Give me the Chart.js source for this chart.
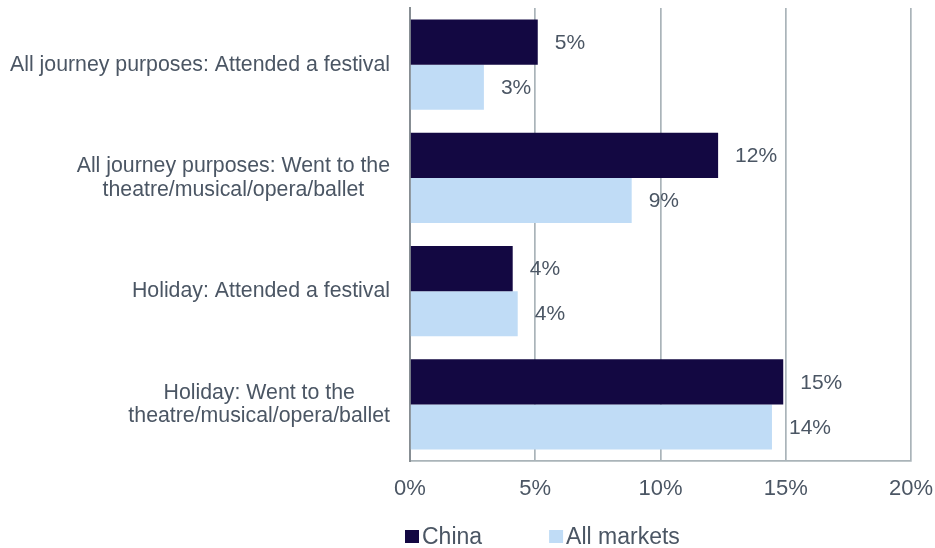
<!DOCTYPE html>
<html>
<head>
<meta charset="utf-8">
<title>Cultural activities</title>
<script src="https://cdn.jsdelivr.net/npm/chart.js@4.4.1/dist/chart.umd.min.js"></script>
<style>
  html, body { margin: 0; padding: 0; background: #fff; }
  #wrap { width: 935px; height: 548px; }
</style>
</head>
<body>
<div id="wrap"><canvas id="barChart" width="935" height="548"></canvas></div>
<script>
// categories (multi-line labels as arrays)
var categories = [
    'All journey purposes: Attended a festival',
    ['All journey purposes: Went to the', 'theatre/musical/opera/ballet'],
    'Holiday: Attended a festival',
    ['Holiday: Went to the', 'theatre/musical/opera/ballet']
];
var seriesNames = ['China', 'All markets'];
var chinaValues = [5.1, 12.3, 4.1, 14.9];
var allMarketsValues = [2.95, 8.85, 4.3, 14.45];
var xTicks = [0, 5, 10, 15, 20];

var FONT = "'Liberation Sans', Arial, sans-serif";
var TEXT = '#4b5664';
var seriesColors = ['#130842', '#c0dcf6'];

// category labels: block right aligned, lines centred inside the block
var yLabelPlugin = {
    id: 'yLabels',
    afterDraw: function(chart) {
        var ctx = chart.ctx;
        var scale = chart.scales.y;
        var lineH = 23.5;
        ctx.save();
        ctx.font = '21.3px ' + FONT;
        ctx.fillStyle = TEXT;
        ctx.textAlign = 'center';
        ctx.textBaseline = 'middle';
        chart.data.labels.forEach(function(lab, i) {
            var lines = Array.isArray(lab) ? lab : [lab];
            var w = 0;
            lines.forEach(function(l) { w = Math.max(w, ctx.measureText(l).width); });
            var cx = scale.right - 20 - w / 2;
            var cy = scale.getPixelForTick(i);
            var y0 = cy - (lines.length - 1) * lineH / 2;
            lines.forEach(function(l, k) { ctx.fillText(l, cx, y0 + k * lineH); });
        });
        ctx.restore();
    }
};

// value labels at the end of each bar
var valueLabelPlugin = {
    id: 'valueLabels',
    afterDatasetsDraw: function(chart) {
        var ctx = chart.ctx;
        ctx.save();
        ctx.font = '21px ' + FONT;
        ctx.fillStyle = TEXT;
        ctx.textAlign = 'left';
        ctx.textBaseline = 'middle';
        chart.data.datasets.forEach(function(ds, d) {
            chart.getDatasetMeta(d).data.forEach(function(bar, i) {
                ctx.fillText(Math.round(ds.data[i]) + '%', bar.x + 17, bar.y + 1);
            });
        });
        ctx.restore();
    }
};

// legend under the axis: small square + name
var legendPlugin = {
    id: 'bottomLegend',
    afterDraw: function(chart) {
        var ctx = chart.ctx;
        var x = 405, cy = 536.5;
        ctx.save();
        ctx.font = '23px ' + FONT;
        ctx.textBaseline = 'middle';
        ctx.textAlign = 'left';
        chart.data.datasets.forEach(function(ds) {
            ctx.fillStyle = ds.backgroundColor;
            ctx.fillRect(x, cy - 6.5, 14, 13);
            ctx.fillStyle = TEXT;
            ctx.fillText(ds.label, x + 17, cy + 1);
            x += 17 + ctx.measureText(ds.label).width + 67;
        });
        ctx.restore();
    }
};

var barData = {
    labels: categories,
    datasets: [{
        label: seriesNames[0],
        data: chinaValues,
        backgroundColor: seriesColors[0]
    }, {
        label: seriesNames[1],
        data: allMarketsValues,
        backgroundColor: seriesColors[1]
    }]
};

new Chart(document.getElementById('barChart').getContext('2d'), {
    type: 'bar',
    data: barData,
    options: {
        indexAxis: 'y',
        responsive: false,
        animation: false,
        devicePixelRatio: 1,
        layout: { padding: { left: 10, top: 8, right: 24, bottom: 47 } },
        datasets: {
            bar: { categoryPercentage: 0.795, barPercentage: 1 }
        },
        plugins: {
            legend: { display: false },
            tooltip: { enabled: false }
        },
        scales: {
            x: {
                min: xTicks[0],
                max: xTicks[xTicks.length - 1],
                afterBuildTicks: function(scale) {
                    scale.ticks = xTicks.map(function(v) { return { value: v }; });
                },
                afterFit: function(scale) {
                    scale.height = 40;
                    scale.paddingLeft = 0;
                    scale.paddingRight = 0;
                },
                grid: { color: '#aab4b9', lineWidth: 1.7, drawTicks: false },
                border: { display: true, color: '#aab4b9', width: 1.7 },
                ticks: {
                    padding: 15,
                    color: TEXT,
                    font: { family: FONT, size: 22 },
                    maxRotation: 0,
                    callback: function(v) { return v + '%'; }
                }
            },
            y: {
                afterFit: function(scale) { scale.width = 400; },
                grid: { display: false, drawTicks: false },
                border: { display: true, color: '#878e93', width: 2 },
                ticks: { display: false }
            }
        }
    },
    plugins: [yLabelPlugin, valueLabelPlugin, legendPlugin]
});
</script>
</body>
</html>
